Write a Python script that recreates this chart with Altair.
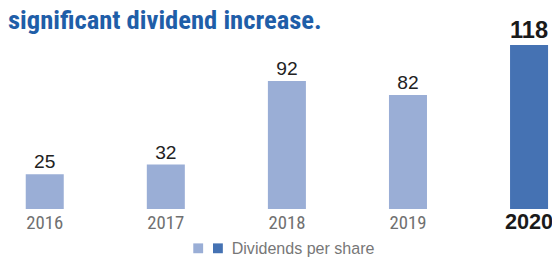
import altair as alt
import pandas as pd

years = ["2016", "2017", "2018", "2019", "2020"]
dividends = [25, 32, 92, 82, 118]
title_text = "significant dividend increase."
legend_text = "Dividends per share"

LIGHT = "#9aaed6"
DARK = "#4572b3"
NARROW = "Liberation Sans Narrow, Roboto Condensed, sans-serif"
REG = "Liberation Sans, Arial, sans-serif"

df = pd.DataFrame({"year": years, "value": dividends})
df["hl"] = df["year"] == "2020"

xscale = alt.Scale(domain=years, range=[18, 548], paddingInner=0.686, paddingOuter=0)
yscale = alt.Scale(domain=[0, 143.3], range=[202, 0])

base = alt.Chart(df).encode(
    x=alt.X("year:N", scale=xscale, axis=None),
)

bars = base.mark_bar().encode(
    y=alt.Y("value:Q", scale=yscale, axis=None),
    color=alt.condition("datum.hl", alt.value(DARK), alt.value(LIGHT)),
)

vals_n = base.transform_filter("!datum.hl").mark_text(
    baseline="alphabetic", dy=-6, font=REG, fontSize=19.5, color="#222222"
).encode(y=alt.Y("value:Q", scale=yscale, axis=None), text="value:Q")

vals_h = base.transform_filter("datum.hl").mark_text(
    baseline="alphabetic", dy=-7, font=REG, fontSize=24, fontWeight="bold", color="#1a1a1a"
).encode(y=alt.Y("value:Q", scale=yscale, axis=None), text="value:Q")

yrs_n = base.transform_filter("!datum.hl").mark_text(
    baseline="alphabetic", font=NARROW, fontSize=19, color="#707070"
).encode(y=alt.value(222), text="year:N")

yrs_h = base.transform_filter("datum.hl").mark_text(
    baseline="alphabetic", font=REG, fontSize=22, fontWeight="bold", color="#1a1a1a"
).encode(y=alt.value(222), text="year:N")

tdf = pd.DataFrame({"t": [title_text]})
title = alt.Chart(tdf).mark_text(
    align="left", baseline="alphabetic", font=NARROW, fontSize=27,
    fontWeight="bold", color="#1f5ea8",
).encode(x=alt.value(0), y=alt.value(19), text="t:N")

ldf = pd.DataFrame({"t": [legend_text]})
sw1 = alt.Chart(ldf).mark_square(size=100, color=LIGHT, opacity=1).encode(
    x=alt.value(193), y=alt.value(242))
sw2 = alt.Chart(ldf).mark_square(size=100, color=DARK, opacity=1).encode(
    x=alt.value(213), y=alt.value(242))
ltxt = alt.Chart(ldf).mark_text(
    align="left", baseline="alphabetic", font=REG, fontSize=16.3, color="#777777"
).encode(x=alt.value(227), y=alt.value(248), text="t:N")

chart = alt.layer(bars, vals_n, vals_h, yrs_n, yrs_h, title, sw1, sw2, ltxt).properties(
    width=552, height=251,
    autosize=alt.AutoSizeParams(type="none"),
    padding={"left": 0, "top": 0, "right": 0, "bottom": 0},
).configure_view(stroke=None)

chart.save("out.html", embed_options={"renderer": "svg", "actions": False})
